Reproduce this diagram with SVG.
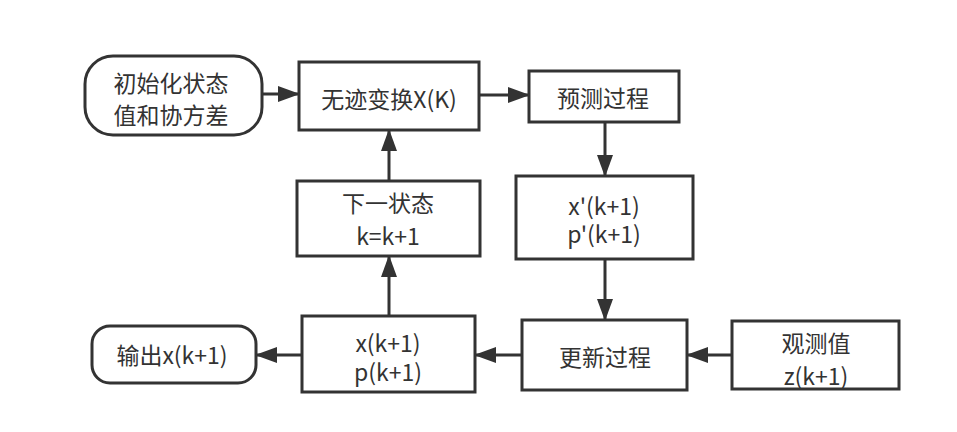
<svg xmlns="http://www.w3.org/2000/svg" width="957" height="432" viewBox="0 0 957 432">
<style>
.n{fill:#fff;stroke:#333;stroke-width:3}
.t{font-family:"Noto Sans CJK SC","Noto Sans",sans-serif;font-size:23px;fill:#333;text-anchor:middle}
.c{stroke:#333;stroke-width:3;fill:none;marker-end:url(#a)}
</style>
<defs>
<marker id="a" markerUnits="userSpaceOnUse" markerWidth="22" markerHeight="18" refX="21" refY="8" orient="auto">
<path d="M0,0 L22,8 L0,16 z" fill="#333"/>
</marker>
</defs>
<rect width="957" height="432" fill="#fff"/>
<g id="connectors">
<line class="c" x1="262" y1="94" x2="299" y2="94"/>
<line class="c" x1="479" y1="95" x2="529" y2="95"/>
<line class="c" x1="605" y1="122" x2="605" y2="176"/>
<line class="c" x1="605" y1="259" x2="605" y2="320"/>
<line class="c" x1="732" y1="355" x2="687" y2="355"/>
<line class="c" x1="522" y1="355" x2="475" y2="355"/>
<line class="c" x1="302" y1="355" x2="256" y2="355"/>
<line class="c" x1="389" y1="316" x2="389" y2="256"/>
<line class="c" x1="389" y1="181" x2="389" y2="130"/>
</g>
<g id="init">
<rect class="n" x="85" y="56" width="177" height="79" rx="28"/>
<text class="t" x="171" y="92">初始化状态</text>
<text class="t" x="171" y="124">值和协方差</text>
</g>
<g id="ut">
<rect class="n" x="299" y="62" width="180" height="68"/>
<text class="t" x="389" y="108">无迹变换X(K)</text>
</g>
<g id="predict">
<rect class="n" x="529" y="71" width="150" height="51"/>
<text class="t" x="603" y="107">预测过程</text>
</g>
<g id="xp">
<rect class="n" x="516" y="176" width="177" height="83"/>
<text class="t" x="604" y="215">x'(k+1)</text>
<text class="t" x="604" y="243">p'(k+1)</text>
</g>
<g id="next">
<rect class="n" x="297" y="181" width="183" height="75"/>
<text class="t" x="388" y="212">下一状态</text>
<text class="t" x="388" y="245">k=k+1</text>
</g>
<g id="xk">
<rect class="n" x="302" y="316" width="173" height="76"/>
<text class="t" x="388" y="352">x(k+1)</text>
<text class="t" x="388" y="381">p(k+1)</text>
</g>
<g id="output">
<rect class="n" x="92" y="326" width="164" height="57" rx="18"/>
<text class="t" x="172" y="364">输出x(k+1)</text>
</g>
<g id="update">
<rect class="n" x="522" y="320" width="165" height="70"/>
<text class="t" x="605" y="366">更新过程</text>
</g>
<g id="observe">
<rect class="n" x="732" y="321" width="167" height="68"/>
<text class="t" x="816" y="352">观测值</text>
<text class="t" x="816" y="385">z(k+1)</text>
</g>
</svg>
